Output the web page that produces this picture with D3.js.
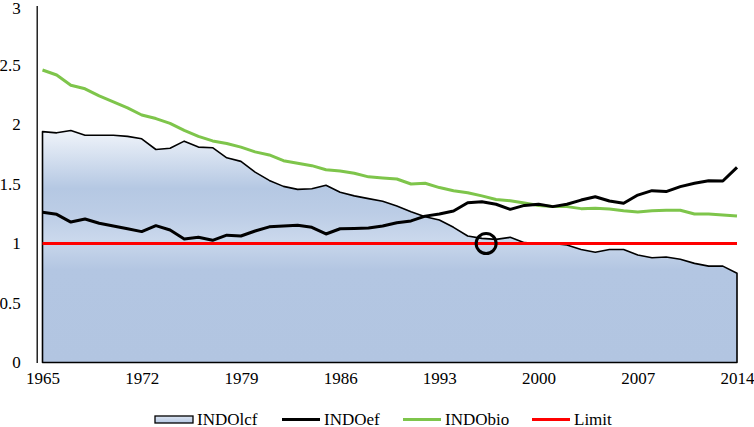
<!DOCTYPE html>
<html><head><meta charset="utf-8">
<script src="https://cdn.jsdelivr.net/npm/d3@7/dist/d3.min.js"></script>
<style>html,body{margin:0;padding:0;background:#fff;}svg{display:block;}
svg text{font-family:"Liberation Serif","Times New Roman",serif !important;font-size:17px !important;fill:#000;}</style>
</head><body>
<svg id="chart" width="754" height="427"></svg>
<script>
const years = d3.range(1965, 2015);
const INDOlcf = [1.94,1.93,1.95,1.91,1.91,1.91,1.90,1.88,1.79,1.80,1.86,1.81,1.805,1.72,1.69,1.60,1.53,1.48,1.455,1.46,1.49,1.43,1.40,1.377,1.355,1.315,1.267,1.225,1.197,1.136,1.063,1.043,1.035,1.052,1.007,1.00,1.00,0.987,0.95,0.926,0.95,0.95,0.903,0.88,0.886,0.867,0.833,0.81,0.81,0.75];
const INDOef = [1.262,1.245,1.18,1.206,1.17,1.147,1.124,1.10,1.15,1.113,1.038,1.052,1.027,1.07,1.063,1.105,1.14,1.147,1.153,1.136,1.08,1.124,1.127,1.13,1.147,1.175,1.19,1.23,1.248,1.273,1.343,1.35,1.33,1.287,1.32,1.33,1.31,1.33,1.365,1.393,1.357,1.338,1.407,1.444,1.436,1.478,1.506,1.528,1.525,1.64];
const INDObio = [2.458,2.416,2.33,2.30,2.24,2.19,2.14,2.08,2.05,2.01,1.95,1.90,1.862,1.84,1.81,1.77,1.744,1.696,1.674,1.654,1.62,1.61,1.59,1.56,1.55,1.542,1.50,1.506,1.47,1.444,1.427,1.40,1.37,1.36,1.34,1.32,1.31,1.31,1.293,1.296,1.29,1.276,1.265,1.276,1.28,1.28,1.248,1.248,1.24,1.231];
const Limit = years.map(() => 1);
const xTicks = [1965,1972,1979,1986,1993,2000,2007,2014];
const yTicks = [0,0.5,1,1.5,2,2.5,3];
const marker = {year: 1996.3, value: 1};
const legendNames = ["INDOlcf","INDOef","INDObio","Limit"];

const svg = d3.select("#chart");
const x = d3.scaleLinear().domain([1965, 2014]).range([42.5, 737]);
const y = d3.scaleLinear().domain([0, 3]).range([362.5, 5.5]);

const defs = svg.append("defs");
const grad = defs.append("linearGradient").attr("id","g").attr("x1",0).attr("y1",0).attr("x2",0).attr("y2",1);
[[0,"#f0f4fa"],[0.25,"#b5c8e3"],[0.36,"#bccde6"],[0.47,"#cad8ec"],[0.6,"#b3c6e2"],[1,"#b2c5e1"]]
  .forEach(([o,c]) => grad.append("stop").attr("offset",o).attr("stop-color",c));
const lg = defs.append("linearGradient").attr("id","lg").attr("x1",0).attr("y1",0).attr("x2",0).attr("y2",1);
[[0,"#dde6f3"],[1,"#b3c6e2"]].forEach(([o,c]) => lg.append("stop").attr("offset",o).attr("stop-color",c));

const lcf = years.map((yr,i)=>({yr, v: INDOlcf[i]}));
const area = d3.area().x(d=>x(d.yr)).y0(y(0)).y1(d=>y(d.v));
svg.append("path").datum(lcf).attr("d", d => area(d) + "Z")
  .attr("fill","url(#g)").attr("stroke","#000").attr("stroke-width",1.6).attr("stroke-linejoin","round");

const line = d3.line().x((d,i)=>x(years[i])).y(d=>y(d));
svg.append("path").datum(Limit).attr("d",line).attr("fill","none").attr("stroke","#ff0000").attr("stroke-width",3);
svg.append("path").datum(INDObio).attr("d",line).attr("fill","none").attr("stroke","#7ec54b").attr("stroke-width",3).attr("stroke-linejoin","round");
svg.append("path").datum(INDOef).attr("d",line).attr("fill","none").attr("stroke","#000").attr("stroke-width",3).attr("stroke-linejoin","round");

svg.append("circle").attr("cx",x(marker.year)).attr("cy",y(marker.value)).attr("r",10)
  .attr("fill","none").attr("stroke","#000").attr("stroke-width",3);

const yAxis = d3.axisLeft(y).tickValues(yTicks).tickSize(0).tickPadding(16).tickFormat(d3.format("~g"));
const ya = svg.append("g").attr("transform","translate(36.7,0)").call(yAxis);
ya.select(".domain").attr("stroke","#000").attr("stroke-width",1.3);
ya.selectAll(".tick text").attr("dy", (d) => d === 3 ? "0.45em" : "0.32em");

const xAxis = d3.axisBottom(x).tickValues(xTicks).tickSize(0).tickPadding(9).tickFormat(d3.format("d"));
const xa = svg.append("g").attr("transform","translate(0,362.5)").call(xAxis);
xa.select(".domain").remove();

const leg = svg.append("g");
const items = [
  {name: legendNames[0], x0:155, type:"rect"},
  {name: legendNames[1], x0:282, type:"line", color:"#000"},
  {name: legendNames[2], x0:403, type:"line", color:"#7ec54b"},
  {name: legendNames[3], x0:532, type:"line", color:"#ff0000"}
];
const ly = 419.5;
items.forEach(it => {
  if (it.type === "rect") {
    leg.append("rect").attr("x",it.x0).attr("y",ly-3.5).attr("width",38).attr("height",7)
      .attr("fill","url(#lg)").attr("stroke","#000").attr("stroke-width",1.3);
  } else {
    leg.append("line").attr("x1",it.x0).attr("x2",it.x0+38).attr("y1",ly).attr("y2",ly)
      .attr("stroke",it.color).attr("stroke-width",3);
  }
  leg.append("text").attr("x",it.x0+42).attr("y",ly+5).text(it.name);
});
</script>
</body></html>
